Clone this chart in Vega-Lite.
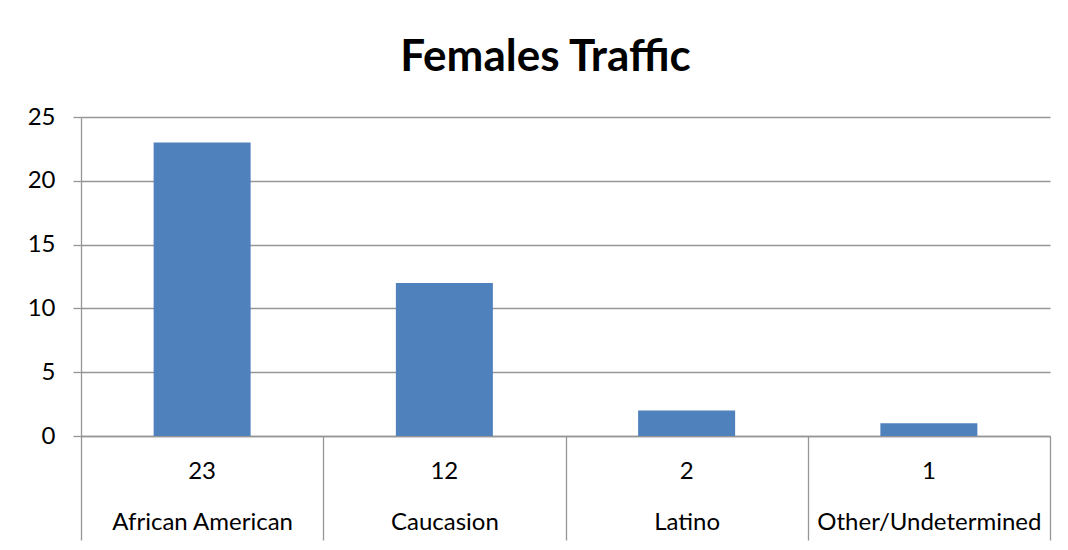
{
  "$schema": "https://vega.github.io/schema/vega-lite/v6.json",
  "width": 969,
  "height": 319,
  "autosize": {"type": "none"},
  "padding": {"left": 81, "top": 117, "right": 18, "bottom": 114},
  "background": "white",
  "title": {
    "text": "Females Traffic",
    "font": "Lato",
    "fontSize": 44,
    "fontWeight": "bold",
    "color": "#000000",
    "anchor": "middle",
    "frame": "group",
    "baseline": "alphabetic",
    "offset": 6,
    "dy": 16,
    "dx": -20
  },
  "data": {
    "values": [
      {"category": "African American", "count": 23},
      {"category": "Caucasion", "count": 12},
      {"category": "Latino", "count": 2},
      {"category": "Other/Undetermined", "count": 1}
    ]
  },
  "encoding": {
    "x": {
      "field": "category",
      "type": "nominal",
      "sort": null,
      "scale": {"paddingInner": 0, "paddingOuter": 0},
      "axis": {
        "title": null,
        "labelAngle": 0,
        "tickBand": "extent",
        "tickSize": 104,
        "tickColor": "#969696",
        "tickWidth": 1.3,
        "domainColor": "#969696",
        "domainWidth": 1.3,
        "labelPadding": -18,
        "labelBaseline": "middle",
        "labelFont": "Lato",
        "labelFontSize": 24,
        "labelColor": "#000000",
        "labelLimit": 300,
        "grid": false
      }
    }
  },
  "layer": [
    {
      "mark": {"type": "bar", "size": 97, "color": "#4f81bd"},
      "encoding": {
        "y": {
          "field": "count",
          "type": "quantitative",
          "scale": {"domain": [0, 25], "nice": false},
          "axis": {
            "title": null,
            "values": [0, 5, 10, 15, 20, 25],
            "grid": true,
            "gridColor": "#969696",
            "gridWidth": 1.3,
            "domainColor": "#969696",
            "domainWidth": 1.3,
            "tickColor": "#969696",
            "tickWidth": 1.3,
            "tickSize": 8,
            "labelPadding": 18,
            "labelFont": "Lato",
            "labelFontSize": 24,
            "labelColor": "#000000"
          }
        }
      }
    },
    {
      "mark": {"type": "text", "dy": 36, "baseline": "middle", "font": "Lato", "fontSize": 24, "color": "#000000"},
      "encoding": {
        "y": {"datum": 0, "type": "quantitative", "scale": {"domain": [0, 25], "nice": false}},
        "text": {"field": "count", "type": "quantitative"}
      }
    }
  ],
  "config": {"view": {"stroke": null}}
}
